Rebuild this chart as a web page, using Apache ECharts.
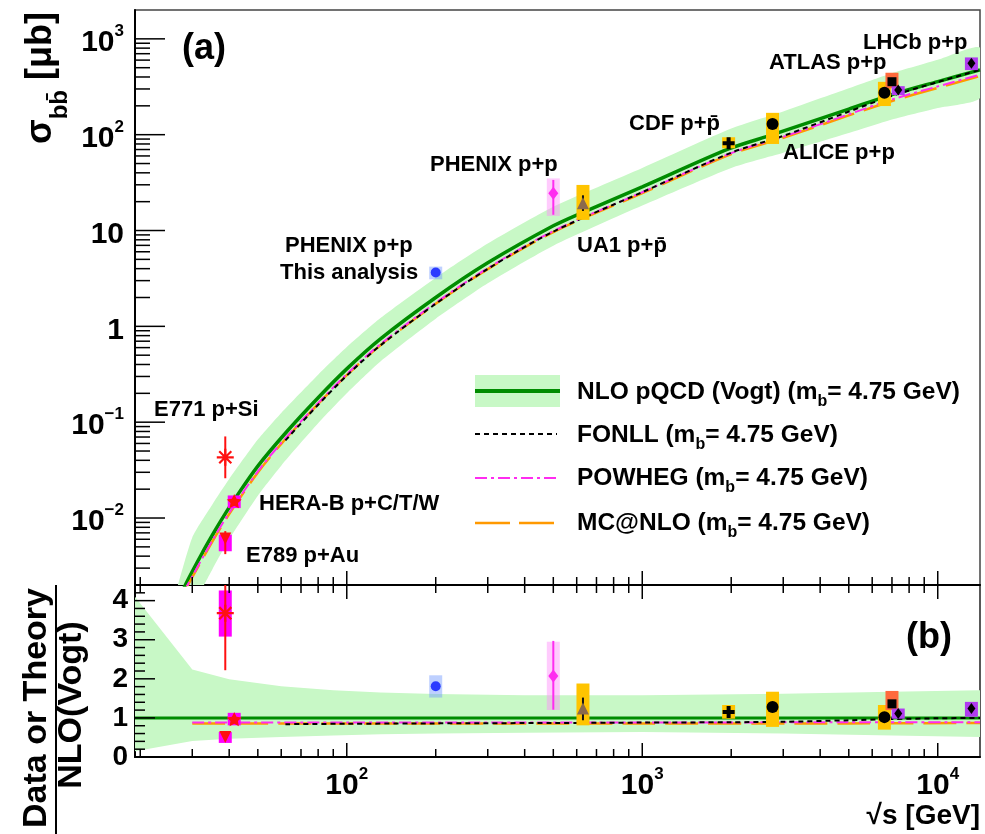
<!DOCTYPE html>
<html><head><meta charset="utf-8">
<script src="https://cdn.jsdelivr.net/npm/echarts@6/dist/echarts.min.js"></script>
<style>html,body{margin:0;padding:0;background:#fff}#c{width:985px;height:834px}</style>
</head><body><div id="c"></div>
<script>
// ---------------- DATA ----------------
// NLO pQCD (Vogt) central curve, sigma_bb [mub] vs sqrt(s) [GeV]
const theoryX  = [20, 22, 25, 28.7, 32.6, 36, 38.8, 41.6, 50, 62.5, 80, 100, 130, 200, 300, 500, 630, 1000, 1960, 2760, 5000, 7000, 10000, 13900];
const nloSigma = [1.7e-4, 3.3e-4, 8.3e-4, 0.00212, 0.00445, 0.00759, 0.0111, 0.0155, 0.0348, 0.079, 0.18, 0.36, 0.74, 2.0, 4.6, 11.2, 15.5, 28.5, 71, 100, 185, 262, 358, 475];
// NLO uncertainty band (top panel)
const bandX     = [20, 25, 30, 35, 40, 50, 60, 80, 100, 130, 200, 300, 500, 1000, 2000, 3000, 5000, 7000, 10000, 13900];
const nloBandHi = [2.5e-4, 0.0010, 0.00627, 0.0137, 0.0255, 0.0658, 0.125, 0.313, 0.608, 1.22, 3.22, 7.31, 17.7, 45, 116, 175, 305, 438, 605, 812];
const nloBandLo = [2.9e-5, 2.5e-4, 0.00115, 0.00287, 0.0060, 0.0171, 0.0352, 0.0972, 0.2, 0.43, 1.2, 2.81, 6.94, 18.2, 45, 64.8, 104, 144, 190, 242];
// FONLL
const fonllX     = [62, 80, 100, 130, 200, 300, 500, 1000, 2000, 3000, 5000, 7000, 10000, 13900];
const fonllSigma = [0.0645, 0.152, 0.306, 0.633, 1.72, 3.98, 9.74, 25.1, 64.9, 97.2, 174, 254, 354, 475];
// POWHEG and MC@NLO
const mcX          = [28, 30, 35, 40, 50, 60, 80, 100, 130, 200, 300, 500, 1000, 2000, 3000, 5000, 7000, 10000, 13900];
const powhegSigma  = [0.00167, 0.00246, 0.00575, 0.0113, 0.0306, 0.0607, 0.158, 0.317, 0.651, 1.76, 4.05, 9.86, 25.1, 64.2, 95, 163, 233, 319, 423];
const mcatnloSigma = [0.00163, 0.00241, 0.00562, 0.0110, 0.0299, 0.0593, 0.155, 0.310, 0.636, 1.72, 3.96, 9.63, 24.5, 62.7, 92.9, 159, 225, 308, 409];

// Ratio panel theory
const ratioLineX   = [19.2, 13900];
const nloRatio     = [1, 1];
const ratioBandX   = [19.2, 30, 40, 60, 90, 130, 200, 400, 1000, 3000, 7000, 13900];
const ratioBandHi  = [4.1, 2.24, 1.99, 1.81, 1.71, 1.65, 1.61, 1.58, 1.58, 1.62, 1.67, 1.71];
const ratioBandLo  = [0.15, 0.41, 0.47, 0.51, 0.55, 0.58, 0.60, 0.62, 0.64, 0.60, 0.55, 0.51];
const fonllRatioX  = [62, 100, 200, 500, 1000, 2000, 3000, 5000, 7000, 10000, 13900];
const fonllRatio   = [0.84, 0.85, 0.86, 0.87, 0.88, 0.89, 0.90, 0.94, 0.97, 0.99, 1.0];
const mcRatioX     = [30, 100, 1000, 5000, 13900];
const powhegRatio  = [0.88, 0.88, 0.88, 0.89, 0.89];
const mcatnloRatio = [0.86, 0.86, 0.86, 0.86, 0.87];

// Measurements
const expNames   = ['E771 p+Si', 'E789 p+Au', 'HERA-B p+C/T/W', 'PHENIX p+p 200', 'PHENIX p+p 500', 'UA1 p+pbar', 'CDF p+pbar', 'ALICE p+p 2.76', 'ALICE p+p 7', 'ATLAS p+p 7', 'LHCb p+p 7', 'LHCb p+p 13'];
const expSqrtS   = [38.8, 38.8, 41.6, 200, 500, 630, 1960, 2760, 6600, 7000, 7350, 13000];
const expSigma   = [0.043, 0.0061, 0.0150, 3.65, 24.5, 19.3, 81.3, 129, 274, 357, 292, 555];
const expStatLo  = [0.026, 0.0042, 0.0135, 3.5, 14.6, 16.0, 77, 125, 266, 350, 285, 545];
const expStatHi  = [0.071, 0.0073, 0.0166, 3.8, 33.7, 23.3, 86, 133, 282, 364, 299, 565];
const expSysLo   = [null, 0.0045, 0.0127, 3.1, 14.2, 12.9, 72, 80, 199, 305, 259, 472];
const expSysHi   = [null, 0.0067, 0.0172, 4.2, 35.0, 29.9, 94, 169, 356, 443, 321, 640];
const ratioVal    = [3.68, 0.51, 0.97, 1.81, 2.07, 1.24, 1.15, 1.28, 1.02, 1.36, 1.11, 1.24];
const ratioStatLo = [2.22, 0.45, 0.88, 1.74, 1.21, 0.94, 1.10, 1.24, 0.99, 1.33, 1.08, 1.21];
const ratioStatHi = [5.2, 0.57, 1.06, 1.88, 2.97, 1.52, 1.20, 1.32, 1.05, 1.39, 1.14, 1.27];
const ratioSysLo  = [3.08, 0.36, 0.81, 1.52, 1.20, 0.81, 0.98, 0.77, 0.70, 1.20, 0.98, 1.03];
const ratioSysHi  = [4.26, 0.64, 1.13, 2.09, 2.95, 1.88, 1.33, 1.67, 1.33, 1.69, 1.24, 1.41];

// Axis ticks
const xTickMajor = [100, 1000, 10000];
const xTickMinor = [20, 30, 40, 50, 60, 70, 80, 90, 200, 300, 400, 500, 600, 700, 800, 900, 2000, 3000, 4000, 5000, 6000, 7000, 8000, 9000];
const yTickMajorTop = [0.01, 0.1, 1, 10, 100, 1000];
const yTickMinorTop = [0.003, 0.004, 0.005, 0.006, 0.007, 0.008, 0.009, 0.02, 0.03, 0.04, 0.05, 0.06, 0.07, 0.08, 0.09,
  0.2, 0.3, 0.4, 0.5, 0.6, 0.7, 0.8, 0.9, 2, 3, 4, 5, 6, 7, 8, 9, 20, 30, 40, 50, 60, 70, 80, 90, 200, 300, 400, 500, 600, 700, 800, 900];
const yTickMajorRatio = [0, 1, 2, 3, 4];
const yTickMinorRatio = [0.2, 0.4, 0.6, 0.8, 1.2, 1.4, 1.6, 1.8, 2.2, 2.4, 2.6, 2.8, 3.2, 3.4, 3.6, 3.8, 4.2];

// ---------------- STYLE ----------------
const FONT = '"Liberation Sans", Arial, Helvetica, sans-serif';
const BAND = '#c8f8c6';
const GREEN = '#008c00';
const ASTERISK = 'path://M-1.3,-10L1.3,-10L1.3,10L-1.3,10Z M-10,-1.3L10,-1.3L10,1.3L-10,1.3Z M-8,-6.2L-6.2,-8L8,6.2L6.2,8Z M6.2,-8L8,-6.2L-6.2,8L-8,6.2Z';
const STAR = 'path://M0,-10L2.9,-4L9.5,-3.1L4.7,1.5L5.9,8.1L0,5L-5.9,8.1L-4.7,1.5L-9.5,-3.1L-2.9,-4Z';
const CROSS = 'path://M-2,-6L2,-6L2,-2L6,-2L6,2L2,2L2,6L-2,6L-2,2L-6,2L-6,-2L-2,-2Z';
const expStyles = [
  {sym: ASTERISK, size: 17, color: '#ff1010', box: '#ff00ff', bar: '#ff1010'},
  {sym: 'triangle', rot: 180, size: 12, color: '#ff1010', box: '#ff00ff', bar: '#ff1010'},
  {sym: STAR, size: 15, color: '#ff1010', box: '#ff00ff', bar: '#ff1010'},
  {sym: 'circle', size: 10, color: '#2b3bff', box: 'rgba(110,150,255,0.45)', bar: '#2b3bff'},
  {sym: 'diamond', size: [10, 13], color: '#ff2cf0', box: 'rgba(255,140,250,0.45)', bar: '#ff2cf0'},
  {sym: 'triangle', size: 12, color: '#8a6a4c', box: '#ffc400', bar: '#111'},
  {sym: CROSS, size: 12, color: '#000', box: '#ffc400', bar: '#000'},
  {sym: 'circle', size: 12, color: '#000', box: '#ffc400', bar: '#000'},
  {sym: 'circle', size: 12, color: '#000', box: '#ffc400', bar: '#000'},
  {sym: 'rect', size: 9, color: '#000', box: '#ff6a3c', bar: '#000'},
  {sym: 'diamond', size: [8, 11], color: '#000', box: '#b03cf0', bar: '#000'},
  {sym: 'diamond', size: [8, 11], color: '#000', box: '#b03cf0', bar: '#000'}
];
const BOX_W = 13;

function clipRect(params) {
  const cs = params.coordSys;
  return {type: 'rect', shape: {x: cs.x, y: cs.y, width: cs.width, height: cs.height}};
}
function bandSeries(xi, yi, xs, lo, hi, smooth) {
  return {
    type: 'custom', xAxisIndex: xi, yAxisIndex: yi, z: 1, silent: true, clip: true,
    data: [[xs[0], hi[0]]],
    renderItem: function (params, api) {
      const pts = [];
      for (let i = 0; i < xs.length; i++) pts.push(api.coord([xs[i], hi[i]]));
      for (let i = xs.length - 1; i >= 0; i--) pts.push(api.coord([xs[i], lo[i]]));
      return {type: 'polygon', shape: {points: pts, smooth: smooth}, style: {fill: BAND}, clipPath: clipRect(params)};
    }
  };
}
function lineSeries(xi, yi, xs, ys, color, width, dash, z) {
  return {
    type: 'line', xAxisIndex: xi, yAxisIndex: yi, silent: true, showSymbol: false, symbol: 'none', z: z, clip: true,
    smooth: 0.3,
    data: xs.map((x, i) => [x, ys[i]]),
    lineStyle: {color: color, width: width, type: dash || 'solid', cap: 'butt'}
  };
}
function boxSeries(xi, yi, xs, lo, hi) {
  const data = [];
  xs.forEach((x, i) => { if (lo[i] != null) data.push([x, lo[i], hi[i], i]); });
  return {
    type: 'custom', xAxisIndex: xi, yAxisIndex: yi, z: 3, silent: true,
    data: data,
    renderItem: function (params, api) {
      const i = api.value(3);
      const p1 = api.coord([api.value(0), api.value(2)]);
      const p0 = api.coord([api.value(0), api.value(1)]);
      const cs = params.coordSys;
      const top = Math.max(p1[1], cs.y), bot = Math.min(p0[1], cs.y + cs.height);
      return {type: 'rect', shape: {x: p1[0] - BOX_W / 2, y: top, width: BOX_W, height: bot - top}, style: {fill: expStyles[i].box}};
    }
  };
}
function barSeries(xi, yi, xs, lo, hi) {
  return {
    type: 'custom', xAxisIndex: xi, yAxisIndex: yi, z: 4, silent: true,
    data: xs.map((x, i) => [x, lo[i], hi[i], i]),
    renderItem: function (params, api) {
      const i = api.value(3);
      const p1 = api.coord([api.value(0), api.value(2)]);
      const p0 = api.coord([api.value(0), api.value(1)]);
      const cs = params.coordSys;
      const top = Math.max(p1[1], cs.y), bot = Math.min(p0[1], cs.y + cs.height);
      return {type: 'line', shape: {x1: p1[0], y1: top, x2: p1[0], y2: bot}, style: {stroke: expStyles[i].bar, lineWidth: 2}};
    }
  };
}
function markerSeries(xi, yi, xs, ys) {
  return {
    type: 'scatter', xAxisIndex: xi, yAxisIndex: yi, z: 5, silent: true,
    data: xs.map((x, i) => ({
      value: [x, ys[i]], symbol: expStyles[i].sym, symbolSize: expStyles[i].size,
      symbolRotate: expStyles[i].rot || 0, symbolKeepAspect: true,
      itemStyle: {color: expStyles[i].color, opacity: 1}
    }))
  };
}
function xTicks(xi, yi, yRef, vals, len, side) {
  return {
    type: 'custom', xAxisIndex: xi, yAxisIndex: yi, z: 10, silent: true,
    data: vals.map(v => [v, yRef]),
    renderItem: function (params, api) {
      const x = api.coord([api.value(0), api.value(1)])[0];
      const cs = params.coordSys;
      const y0 = side === 'bottom' ? cs.y + cs.height : cs.y;
      const d = side === 'bottom' ? -len : len;
      return {type: 'line', shape: {x1: x, y1: y0, x2: x, y2: y0 + d}, style: {stroke: '#000', lineWidth: 1.5}};
    }
  };
}
function yTicks(xi, yi, xRef, vals, len) {
  return {
    type: 'custom', xAxisIndex: xi, yAxisIndex: yi, z: 10, silent: true,
    data: vals.map(v => [xRef, v]),
    renderItem: function (params, api) {
      const y = api.coord([api.value(0), api.value(1)])[1];
      const x0 = params.coordSys.x;
      return {type: 'line', shape: {x1: x0, y1: y, x2: x0 + len, y2: y}, style: {stroke: '#000', lineWidth: 1.5}};
    }
  };
}

const powRich = {
  b: {fontSize: 30, fontWeight: 'bold', fontFamily: FONT, color: '#000', lineHeight: 38, verticalAlign: 'bottom'},
  s: {fontSize: 17, fontWeight: 'bold', fontFamily: FONT, color: '#000', lineHeight: 38, verticalAlign: 'top', padding: [3, 0, 0, 0]}
};
function powLabel(v) {
  const e = Math.round(Math.log10(v));
  if (e === 0) return '{b|1}';
  if (e === 1) return '{b|10}';
  return '{b|10}{s|' + (e < 0 ? '\u2212' + (-e) : e) + '}';
}

function txt(x, y, text, size, align, extra) {
  return Object.assign({
    type: 'text', x: x, y: y, z: 100, silent: true,
    style: {text: text, fontSize: size, fontWeight: 'bold', fontFamily: FONT, fill: '#000',
      textAlign: align || 'left', align: align || 'left', textVerticalAlign: 'middle', verticalAlign: 'middle'}
  }, extra || {});
}
const legRich = {
  t: {fontSize: 24.5, fontWeight: 'bold', fontFamily: FONT, fill: '#000', color: '#000', lineHeight: 36, verticalAlign: 'middle'},
  u: {fontSize: 16, fontWeight: 'bold', fontFamily: FONT, fill: '#000', color: '#000', lineHeight: 36, verticalAlign: 'bottom'}
};
function legText(y, t) {
  const g = txt(577, y, t, 24.5, 'left');
  g.style.rich = legRich;
  return g;
}

const graphics = [
  txt(182, 49, '(a)', 36),
  txt(906, 638, '(b)', 36),
  txt(430, 165, 'PHENIX p+p', 22),
  txt(285, 246, 'PHENIX p+p', 22),
  txt(280, 273, 'This analysis', 22),
  txt(577, 246, 'UA1 p+p\u0304', 22),
  txt(629, 124, 'CDF p+p\u0304', 22),
  txt(783, 153, 'ALICE p+p', 22),
  txt(769, 63, 'ATLAS p+p', 22),
  txt(863, 43, 'LHCb p+p', 22),
  txt(154, 410, 'E771 p+Si', 22),
  txt(259, 504, 'HERA-B p+C/T/W', 22),
  txt(246, 556, 'E789 p+Au', 22),
  txt(980, 816, '\u221As [GeV]', 28, 'right'),
  // legend
  {type: 'rect', shape: {x: 475, y: 375, width: 85, height: 32}, style: {fill: BAND}, z: 90, silent: true},
  {type: 'line', shape: {x1: 475, y1: 391, x2: 560, y2: 391}, style: {stroke: GREEN, lineWidth: 4}, z: 91, silent: true},
  {type: 'line', shape: {x1: 475, y1: 434, x2: 557, y2: 434}, style: {stroke: '#000', lineWidth: 2, lineDash: [5, 4]}, z: 91, silent: true},
  {type: 'line', shape: {x1: 475, y1: 478, x2: 557, y2: 478}, style: {stroke: '#ff2cf0', lineWidth: 2, lineDash: [12, 4, 3, 4]}, z: 91, silent: true},
  {type: 'line', shape: {x1: 475, y1: 523, x2: 557, y2: 523}, style: {stroke: '#ff9900', lineWidth: 2.5, lineDash: [35, 9]}, z: 91, silent: true},
  legText(392, '{t|NLO pQCD (Vogt) (m}{u|b}{t|= 4.75 GeV)}'),
  legText(435, '{t|FONLL (m}{u|b}{t|= 4.75 GeV)}'),
  legText(478, '{t|POWHEG (m}{u|b}{t|= 4.75 GeV)}'),
  legText(523, '{t|MC@NLO (m}{u|b}{t|= 4.75 GeV)}'),
  // axis titles
  (function () {
    const g = txt(41, 78, '{m|\u03C3}{u|bb\u0304}{m| [\u03BCb]}', 36, 'center', {rotation: Math.PI / 2});
    g.style.rich = {
      m: {fontSize: 36, fontWeight: 'bold', fontFamily: FONT, fill: '#000', lineHeight: 63, verticalAlign: 'middle'},
      u: {fontSize: 24, fontWeight: 'bold', fontFamily: FONT, fill: '#000', lineHeight: 63, verticalAlign: 'bottom'}
    };
    return g;
  })(),
  txt(37, 708, 'Data or Theory', 34, 'center', {rotation: Math.PI / 2}),
  txt(72, 705, 'NLO(Vogt)', 34, 'center', {rotation: Math.PI / 2}),
  {type: 'line', shape: {x1: 56, y1: 585, x2: 56, y2: 834}, style: {stroke: '#000', lineWidth: 2}, z: 100, silent: true}
];

const axisLineStyle = {show: true, lineStyle: {color: '#000', width: 2}};
const option = {
  animation: false,
  backgroundColor: '#fff',
  grid: [
    {left: 135, right: 5, top: 10, height: 575, show: true, borderColor: '#444', borderWidth: 1.5, backgroundColor: 'transparent'},
    {left: 135, right: 5, top: 585, height: 172, show: true, borderColor: '#222', borderWidth: 1.5, backgroundColor: 'transparent'}
  ],
  xAxis: [
    {type: 'log', logBase: 10, gridIndex: 0, min: 19.2, max: 13900, axisLine: axisLineStyle, axisTick: {show: false}, axisLabel: {show: false}, splitLine: {show: false}, minorTick: {show: false}},
    {type: 'log', logBase: 10, gridIndex: 1, min: 19.2, max: 13900, axisLine: axisLineStyle, axisTick: {show: false}, splitLine: {show: false},
      axisLabel: {show: true, margin: 6, showMinLabel: false, showMaxLabel: false, formatter: powLabel, rich: powRich}}
  ],
  yAxis: [
    {type: 'log', logBase: 10, gridIndex: 0, min: 0.002, max: 2000, axisLine: axisLineStyle, axisTick: {show: false}, splitLine: {show: false},
      axisLabel: {show: true, margin: 11, showMinLabel: false, showMaxLabel: false, formatter: powLabel, rich: powRich}},
    {type: 'value', gridIndex: 1, min: 0, max: 4.4, interval: 1, axisLine: axisLineStyle, axisTick: {show: false}, splitLine: {show: false},
      axisLabel: {show: true, margin: 7, showMaxLabel: false, fontSize: 28, fontWeight: 'bold', fontFamily: FONT, color: '#000'}}
  ],
  graphic: graphics,
  series: [
    bandSeries(0, 0, bandX, nloBandLo, nloBandHi, 0.2),
    lineSeries(0, 0, theoryX, nloSigma, GREEN, 3.5, 'solid', 2),
    lineSeries(0, 0, mcX, mcatnloSigma, '#ff9900', 2.5, [33, 10], 2),
    lineSeries(0, 0, mcX, powhegSigma, '#ff2cf0', 2, [12, 4, 3, 4], 2),
    lineSeries(0, 0, fonllX, fonllSigma, '#000', 2, [5, 4], 2),
    boxSeries(0, 0, expSqrtS, expSysLo, expSysHi),
    barSeries(0, 0, expSqrtS, expStatLo, expStatHi),
    markerSeries(0, 0, expSqrtS, expSigma),

    bandSeries(1, 1, ratioBandX, ratioBandLo, ratioBandHi, 0),
    lineSeries(1, 1, ratioLineX, nloRatio, GREEN, 3, 'solid', 2),
    lineSeries(1, 1, mcRatioX, mcatnloRatio, '#ff9900', 2.5, [33, 10], 2),
    lineSeries(1, 1, mcRatioX, powhegRatio, '#ff2cf0', 2, [12, 4, 3, 4], 2),
    lineSeries(1, 1, fonllRatioX, fonllRatio, '#000', 2, [5, 4], 2),
    boxSeries(1, 1, expSqrtS, ratioSysLo, ratioSysHi),
    barSeries(1, 1, expSqrtS, ratioStatLo, ratioStatHi),
    markerSeries(1, 1, expSqrtS, ratioVal),

    xTicks(0, 0, 1, xTickMajor, 14, 'bottom'),
    xTicks(0, 0, 1, xTickMinor, 8, 'bottom'),
    yTicks(0, 0, 100, yTickMajorTop, 30),
    yTicks(0, 0, 100, yTickMinorTop, 15),
    xTicks(1, 1, 1, xTickMajor, 14, 'top'),
    xTicks(1, 1, 1, xTickMinor, 8, 'top'),
    xTicks(1, 1, 1, xTickMajor, 14, 'bottom'),
    xTicks(1, 1, 1, xTickMinor, 8, 'bottom'),
    yTicks(1, 1, 100, yTickMajorRatio, 20),
    yTicks(1, 1, 100, yTickMinorRatio, 10)
  ]
};
const chart = echarts.init(document.getElementById('c'), null, {renderer: 'canvas'});
chart.setOption(option);
</script></body></html>
